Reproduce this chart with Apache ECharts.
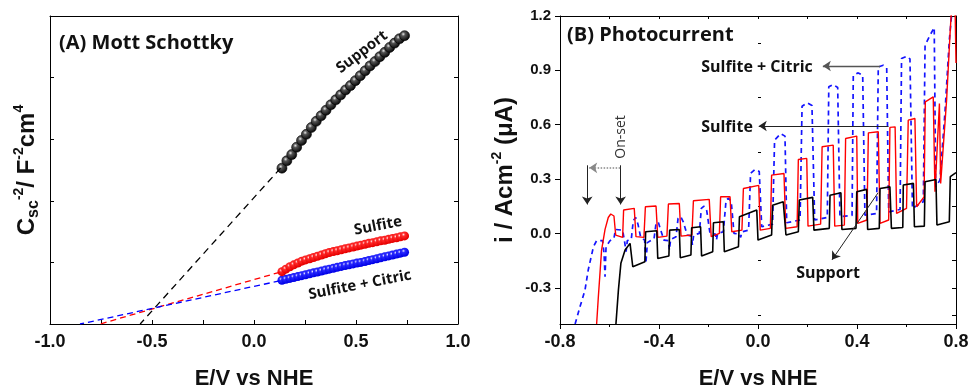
<!DOCTYPE html>
<html>
<head>
<meta charset="utf-8">
<script src="https://cdn.jsdelivr.net/npm/echarts@6/dist/echarts.min.js"></script>
<style>
html, body { margin: 0; padding: 0; background: #fff; }
#chart { width: 971px; height: 386px; }
</style>
</head>
<body>
<div id="chart"></div>
<script>
// ---- (A) Mott Schottky data ----
var msSupportX = [0.137, 0.161, 0.185, 0.209, 0.233, 0.257, 0.281, 0.305, 0.329, 0.353, 0.377, 0.401, 0.425,
    0.449, 0.473, 0.497, 0.521, 0.545, 0.569, 0.593, 0.617, 0.641, 0.665, 0.689, 0.713, 0.738];
var msSupportY = [2.53, 2.65, 2.75, 2.87, 2.98, 3.08, 3.19, 3.29, 3.38, 3.47, 3.56, 3.64, 3.72,
    3.80, 3.87, 3.95, 4.03, 4.11, 4.19, 4.26, 4.34, 4.41, 4.49, 4.56, 4.63, 4.68];
var msSulfX = [0.137, 0.156, 0.176, 0.195, 0.215, 0.234, 0.253, 0.273, 0.292, 0.311, 0.331, 0.350, 0.369, 0.389,
    0.408, 0.428, 0.447, 0.466, 0.486, 0.505, 0.524, 0.544, 0.563, 0.582, 0.602, 0.621, 0.641, 0.660, 0.679, 0.699, 0.718, 0.738];
var msSulfiteY = [0.85, 0.89, 0.93, 0.96, 0.99, 1.02, 1.04, 1.06, 1.08, 1.10, 1.12, 1.14, 1.16, 1.175, 1.19, 1.205,
    1.22, 1.235, 1.25, 1.265, 1.28, 1.295, 1.31, 1.32, 1.335, 1.35, 1.36, 1.375, 1.39, 1.40, 1.415, 1.43];
var msCitricY = [0.71, 0.725, 0.74, 0.755, 0.77, 0.785, 0.80, 0.815, 0.83, 0.845, 0.86, 0.875, 0.89, 0.905, 0.92, 0.935,
    0.95, 0.96, 0.975, 0.99, 1.00, 1.015, 1.03, 1.045, 1.06, 1.075, 1.09, 1.105, 1.12, 1.135, 1.15, 1.165];
// extrapolated fits down to the x axis
var fitSupport = [[0.13, 2.53], [-0.558, 0]];
var fitSulfite = [[0.125, 0.84], [-0.755, 0]];
var fitCitric = [[0.125, 0.70], [-0.853, 0]];

// ---- (B) Photocurrent data  [E, i] ----
var pcSupport = [[-0.574,-0.5],[-0.564,-0.313],[-0.554,-0.165],[-0.537,-0.092],[-0.517,-0.055],[-0.510,-0.064],[-0.506,-0.184],
    [-0.457,-0.156],[-0.454,0.009],[-0.409,0.015],[-0.405,-0.138],
    [-0.360,-0.125],[-0.357,0.018],[-0.318,0.022],[-0.314,-0.134],
    [-0.271,-0.119],[-0.268,0.031],[-0.232,0.037],[-0.228,-0.125],
    [-0.183,-0.101],[-0.180,0.059],[-0.140,0.064],[-0.136,-0.101],
    [-0.079,-0.074],[-0.075,0.092],[-0.005,0.129],[0.000,-0.037],
    [0.055,-0.009],[0.059,0.156],[0.102,0.175],[0.113,-0.009],
    [0.163,0.009],[0.167,0.184],[0.221,0.199],[0.226,0.018],
    [0.288,0.028],[0.291,0.211],[0.335,0.224],[0.339,0.022],
    [0.396,0.028],[0.399,0.230],[0.439,0.243],[0.443,0.022],
    [0.490,0.028],[0.493,0.248],[0.533,0.257],[0.539,0.028],
    [0.585,0.033],[0.587,0.267],[0.628,0.276],[0.632,0.037],
    [0.672,0.040],[0.675,0.285],[0.719,0.298],[0.723,0.046],
    [0.773,0.064],[0.777,0.313],[0.800,0.335]];
var pcSulfite = [[-0.652,-0.5],[-0.645,-0.349],[-0.632,-0.092],[-0.618,0.022],[-0.605,0.088],[-0.595,0.107],[-0.582,0.096],[-0.575,-0.009],
    [-0.547,-0.022],[-0.543,0.129],[-0.500,0.138],[-0.493,-0.018],
    [-0.461,-0.022],[-0.455,0.147],[-0.412,0.151],[-0.405,-0.022],
    [-0.368,-0.015],[-0.362,0.162],[-0.318,0.165],[-0.311,-0.015],
    [-0.267,-0.009],[-0.261,0.180],[-0.197,0.188],[-0.189,-0.018],
    [-0.156,0.000],[-0.151,0.202],[-0.113,0.202],[-0.106,0.009],
    [-0.065,0.018],[-0.059,0.248],[0.003,0.265],[0.009,0.018],
    [0.050,0.028],[0.055,0.322],[0.105,0.331],[0.112,0.028],
    [0.158,0.037],[0.163,0.408],[0.197,0.414],[0.202,0.040],
    [0.253,0.051],[0.259,0.478],[0.304,0.487],[0.310,0.040],
    [0.349,0.046],[0.354,0.524],[0.399,0.537],[0.403,0.055],
    [0.440,0.074],[0.446,0.555],[0.486,0.561],[0.493,0.055],
    [0.528,0.074],[0.533,0.585],[0.554,0.588],[0.560,0.110],
    [0.600,0.138],[0.607,0.625],[0.634,0.634],[0.641,0.147],
    [0.671,0.202],[0.676,0.726],[0.708,0.754],[0.715,0.230],
    [0.733,0.717],[0.738,0.276],[0.762,0.735],[0.776,1.103],[0.784,1.287],[0.795,1.35],[0.800,0.94]];
var pcCitric = [[-0.739,-0.5],[-0.719,-0.404],[-0.699,-0.313],[-0.686,-0.202],[-0.665,-0.074],[-0.652,-0.040],
    [-0.628,-0.040],[-0.622,-0.110],[-0.618,-0.239],[-0.614,-0.074],[-0.598,-0.040],[-0.582,-0.028],
    [-0.576,0.022],[-0.547,0.018],[-0.539,-0.046],[-0.533,-0.101],[-0.528,-0.040],[-0.512,-0.033],
    [-0.504,0.070],[-0.494,0.088],[-0.485,0.051],[-0.474,-0.022],[-0.458,-0.037],[-0.453,-0.165],[-0.447,-0.051],[-0.420,-0.028],
    [-0.412,0.055],[-0.403,0.063],[-0.393,0.018],[-0.380,-0.037],[-0.362,-0.040],[-0.358,-0.092],[-0.353,-0.033],[-0.331,-0.018],
    [-0.323,0.083],[-0.312,0.092],[-0.302,0.064],[-0.286,-0.009],[-0.269,-0.015],[-0.265,-0.064],[-0.260,-0.009],[-0.237,0.000],
    [-0.229,0.138],[-0.218,0.151],[-0.207,0.125],[-0.194,0.000],[-0.172,-0.004],[-0.168,-0.037],[-0.163,0.000],[-0.140,0.009],
    [-0.129,0.184],[-0.119,0.195],[-0.108,0.175],[-0.097,0.000],[-0.075,-0.004],[-0.070,-0.022],[-0.065,0.009],[-0.038,0.018],
    [-0.030,0.331],[-0.012,0.353],[0.005,0.342],[0.015,0.037],[0.059,0.051],
    [0.067,0.515],[0.092,0.551],[0.109,0.537],[0.116,0.059],[0.170,0.074],
    [0.178,0.702],[0.199,0.721],[0.218,0.706],[0.229,0.074],[0.280,0.088],
    [0.286,0.809],[0.304,0.822],[0.322,0.805],[0.331,0.092],[0.380,0.099],
    [0.385,0.873],[0.405,0.886],[0.423,0.873],[0.432,0.101],[0.479,0.110],
    [0.486,0.919],[0.506,0.928],[0.520,0.914],[0.528,0.119],[0.574,0.132],
    [0.580,0.965],[0.601,0.978],[0.614,0.963],[0.624,0.138],[0.668,0.175],
    [0.675,1.039],[0.695,1.094],[0.712,1.136],[0.718,0.257],[0.735,0.294],
    [0.756,0.680],[0.773,1.066],[0.784,1.232],[0.792,1.379]];

var pcYLabels = [-0.3, 0, 0.3, 0.6, 0.9, 1.2];
var pcYMinor = [-0.45, -0.15, 0.15, 0.45, 0.75, 1.05];

// annotation arrows [from, to] in data units
var pcArrows = [
    [[0.493, 0.924], [0.262, 0.924], '#555', 'solid', 1.4],
    [[0.527, 0.593], [0.003, 0.593], '#222', 'solid', 1],
    [[0.485, 0.224], [0.299, -0.146], '#222', 'solid', 1],
    [[-0.555, 0.376], [-0.555, 0.160], '#222', 'solid', 1],
    [[-0.690, 0.376], [-0.690, 0.160], '#222', 'solid', 1],
    [[-0.557, 0.362], [-0.682, 0.362], '#888', 'dotted', 1.5]
];

function pairs(xs, ys) {
    return xs.map(function (x, i) { return [x, ys[i]]; });
}
function ball(hi, mid, dark) {
    return {
        type: 'radial', x: 0.38, y: 0.35, r: 0.62,
        colorStops: [{offset: 0, color: hi}, {offset: 0.3, color: mid}, {offset: 1, color: dark}]
    };
}

var labelFont = {fontFamily: 'Liberation Sans', fontWeight: 'bold', color: '#111'};
var axLine = {show: true, onZero: false, lineStyle: {color: '#000', width: 1}};
var fmt1 = function (v) { return v.toFixed(1); };
var boldTxt = {fontFamily: 'Liberation Sans', fontWeight: 'bold', color: '#111'};

var chart = echarts.init(document.getElementById('chart'));

var option = {
    animation: false,
    backgroundColor: '#fff',
    grid: [
        {left: 50, top: 16, width: 408, height: 308, outerBoundsMode: 'none', containLabel: false},
        {left: 560, top: 16, width: 396, height: 308, outerBoundsMode: 'none', containLabel: false}
    ],
    xAxis: [
        {
            gridIndex: 0, type: 'value', min: -1, max: 1, interval: 0.5,
            axisLine: axLine,
            axisTick: {inside: true, length: 4, lineStyle: {color: '#000'}},
            minorTick: {show: true, splitNumber: 2, length: 4, lineStyle: {color: '#000'}},
            axisLabel: Object.assign({fontSize: 18, margin: 9, formatter: fmt1}, labelFont),
            splitLine: {show: false},
            name: 'E/V vs NHE', nameLocation: 'middle', nameGap: 44,
            nameTextStyle: {fontFamily: 'Liberation Sans', fontWeight: 'bold', fontSize: 22, color: '#111'}
        },
        {
            gridIndex: 0, type: 'value', position: 'top', min: -1, max: 1,
            axisLine: axLine, axisTick: {show: false}, axisLabel: {show: false}, splitLine: {show: false}
        },
        {
            gridIndex: 1, type: 'value', min: -0.8, max: 0.8, interval: 0.4,
            axisLine: axLine,
            axisTick: {length: 5, lineStyle: {color: '#000'}},
            minorTick: {show: true, splitNumber: 2, length: 3, lineStyle: {color: '#000'}},
            axisLabel: Object.assign({fontSize: 18, margin: 9, formatter: fmt1}, labelFont),
            splitLine: {show: false},
            name: 'E/V vs NHE', nameLocation: 'middle', nameGap: 44,
            nameTextStyle: {fontFamily: 'Liberation Sans', fontWeight: 'bold', fontSize: 22, color: '#111'}
        },
        {
            gridIndex: 1, type: 'value', position: 'top', min: -0.8, max: 0.8, interval: 0.2,
            axisLine: axLine, axisTick: {inside: true, length: 3, lineStyle: {color: '#000'}},
            axisLabel: {show: false}, splitLine: {show: false}
        }
    ],
    yAxis: [
        {
            gridIndex: 0, type: 'value', min: 0, max: 5, interval: 1,
            axisLine: axLine,
            axisTick: {inside: true, length: 4, lineStyle: {color: '#000'}},
            axisLabel: {show: false}, splitLine: {show: false},
            name: '{b|C}{sub|sc}{sup|-2}{b|/ F}{sup|-2}{b|cm}{sup|4}',
            nameLocation: 'middle', nameRotate: 90, nameGap: 8,
            nameTextStyle: {
                rich: {
                    b: Object.assign({fontSize: 24, lineHeight: 30}, boldTxt),
                    sup: Object.assign({fontSize: 14, lineHeight: 14, verticalAlign: 'top'}, boldTxt),
                    sub: Object.assign({fontSize: 16, lineHeight: 16, verticalAlign: 'bottom'}, boldTxt)
                }
            }
        },
        {
            gridIndex: 0, type: 'value', position: 'right', min: 0, max: 5, interval: 1,
            axisLine: axLine, axisTick: {inside: true, length: 4, lineStyle: {color: '#000'}},
            axisLabel: {show: false}, splitLine: {show: false}
        },
        {
            gridIndex: 1, type: 'value', min: -0.5, max: 1.2,
            axisLine: axLine,
            axisTick: {length: 5, customValues: pcYLabels, lineStyle: {color: '#000'}},
            axisLabel: Object.assign({fontSize: 15, margin: 9, customValues: pcYLabels, formatter: fmt1}, labelFont),
            splitLine: {show: false},
            name: '{b|i / Acm}{sup|-2}{b| (\u03bcA)}',
            nameLocation: 'middle', nameRotate: 90, nameGap: 40,
            nameTextStyle: {
                rich: {
                    b: Object.assign({fontSize: 24, lineHeight: 30}, boldTxt),
                    sup: Object.assign({fontSize: 14, lineHeight: 14, verticalAlign: 'top'}, boldTxt)
                }
            }
        },
        {
            gridIndex: 1, type: 'value', min: -0.5, max: 1.2,
            axisLine: {show: false}, axisLabel: {show: false}, splitLine: {show: false},
            axisTick: {length: 3, customValues: pcYMinor, lineStyle: {color: '#000'}}
        },
        {
            gridIndex: 1, type: 'value', position: 'right', min: -0.5, max: 1.2,
            axisLine: axLine, axisLabel: {show: false}, splitLine: {show: false},
            axisTick: {inside: true, length: 4, customValues: pcYLabels.concat(pcYMinor), lineStyle: {color: '#000'}}
        }
    ],
    series: [
        // (A) dashed extrapolations
        {type: 'line', xAxisIndex: 0, yAxisIndex: 0, data: fitSupport, showSymbol: false, symbol: 'none',
            lineStyle: {color: '#000', width: 1.3, type: [7, 5]}},
        {type: 'line', xAxisIndex: 0, yAxisIndex: 0, data: fitSulfite, showSymbol: false, symbol: 'none',
            lineStyle: {color: '#ff0000', width: 1.3, type: [6, 4]}},
        {type: 'line', xAxisIndex: 0, yAxisIndex: 0, data: fitCitric, showSymbol: false, symbol: 'none',
            lineStyle: {color: '#0000ff', width: 1.3, type: [6, 4]}},
        // (A) measured points
        {type: 'scatter', xAxisIndex: 0, yAxisIndex: 0, data: pairs(msSupportX, msSupportY), symbolSize: 10,
            itemStyle: {color: ball('#e8e8e8', '#555', '#0a0a0a'), borderColor: '#000', borderWidth: 0.6, opacity: 1}},
        {type: 'scatter', xAxisIndex: 0, yAxisIndex: 0, data: pairs(msSulfX, msCitricY), symbolSize: 9,
            itemStyle: {color: ball('#e0e0ff', '#2a2aff', '#0000e6'), opacity: 1}},
        {type: 'scatter', xAxisIndex: 0, yAxisIndex: 0, data: pairs(msSulfX, msSulfiteY), symbolSize: 9,
            itemStyle: {color: ball('#ffe0e0', '#ff2a2a', '#e60000'), opacity: 1}},
        // (B) chopped-light photocurrent
        {type: 'line', xAxisIndex: 2, yAxisIndex: 2, data: pcCitric, symbol: 'none', clip: true,
            lineStyle: {color: '#1414ff', width: 1.7, type: [5, 4]}},
        {type: 'line', xAxisIndex: 2, yAxisIndex: 2, data: pcSulfite, symbol: 'none', clip: true,
            lineStyle: {color: '#ff0000', width: 1.4}},
        {type: 'line', xAxisIndex: 2, yAxisIndex: 2, data: pcSupport, symbol: 'none', clip: true,
            lineStyle: {color: '#000', width: 1.6},
            markLine: {
                silent: true, symbol: ['none', 'arrow'], symbolSize: 8, label: {show: false},
                data: pcArrows.map(function (a) {
                    return [{coord: a[0], lineStyle: {color: a[2], type: a[3], width: a[4]}}, {coord: a[1]}];
                })
            }}
    ],
    graphic: [
        {type: 'text', x: 59, y: 43, style: {text: '(A) Mott Schottky', font: 'bold 20px "Open Sans"', fill: '#111', verticalAlign: 'middle'}},
        {type: 'text', x: 362, y: 52, rotation: 37 * Math.PI / 180,
            style: {text: 'Support', font: 'bold 15px "Open Sans"', fill: '#111', align: 'center', verticalAlign: 'middle'}},
        {type: 'text', x: 378, y: 226, rotation: 11 * Math.PI / 180,
            style: {text: 'Sulfite', font: 'bold 15px "Open Sans"', fill: '#111', align: 'center', verticalAlign: 'middle'}},
        {type: 'text', x: 360, y: 285, rotation: 11 * Math.PI / 180,
            style: {text: 'Sulfite + Citric', font: 'bold 15px "Open Sans"', fill: '#111', align: 'center', verticalAlign: 'middle'}},
        {type: 'text', x: 567, y: 35, style: {text: '(B) Photocurrent', font: 'bold 20px "Open Sans"', fill: '#111', verticalAlign: 'middle'}},
        {type: 'text', x: 757, y: 67, style: {text: 'Sulfite + Citric', font: 'bold 16px "Open Sans"', fill: '#111', align: 'center', verticalAlign: 'middle'}},
        {type: 'text', x: 727, y: 127, style: {text: 'Sulfite', font: 'bold 16px "Open Sans"', fill: '#111', align: 'center', verticalAlign: 'middle'}},
        {type: 'text', x: 828, y: 273, style: {text: 'Support', font: 'bold 16px "Open Sans"', fill: '#111', align: 'center', verticalAlign: 'middle'}},
        {type: 'text', x: 621, y: 137, rotation: Math.PI / 2,
            style: {text: 'On-set', font: '14px "Open Sans"', fill: '#333', align: 'center', verticalAlign: 'middle'}}
    ]
};

chart.setOption(option);
</script>
</body>
</html>
